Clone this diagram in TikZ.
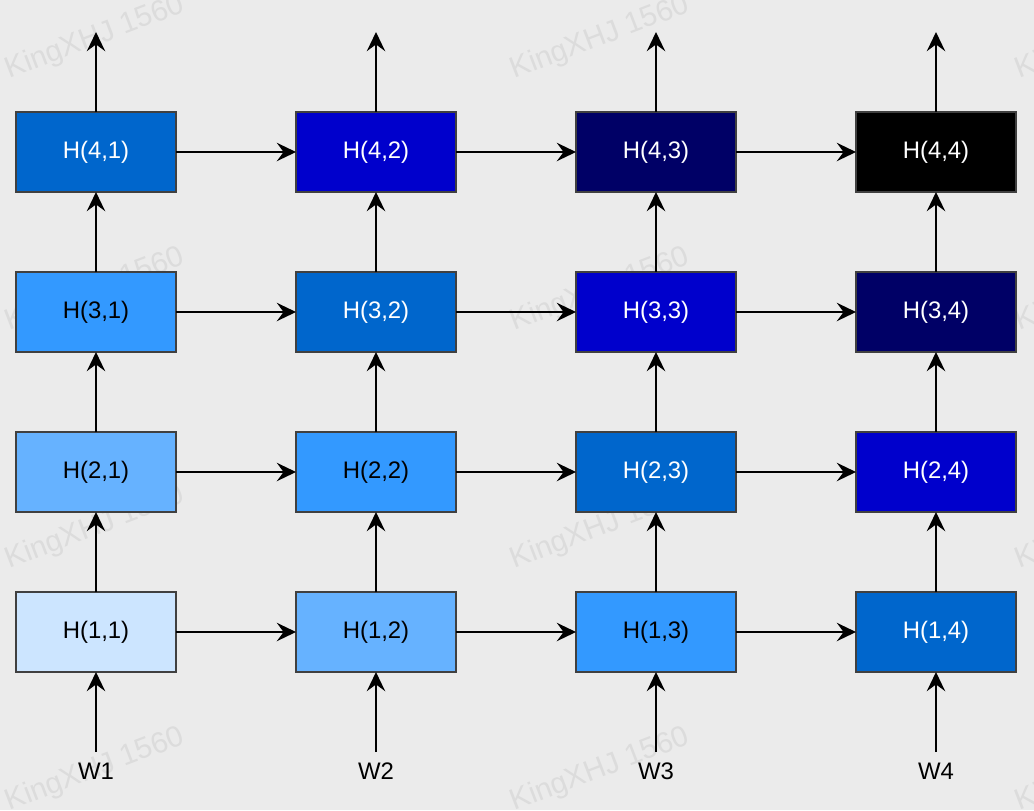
\documentclass[tikz,border=0pt]{standalone}
\usepackage{fontspec}
\setmainfont{Liberation Sans}
\usetikzlibrary{positioning, arrows.meta}
\definecolor{bgcol}{HTML}{EBEBEB}
\definecolor{wmcol}{HTML}{DCDCDC}
\definecolor{lvA}{HTML}{CCE5FF}
\definecolor{lvB}{HTML}{66B2FF}
\definecolor{lvC}{HTML}{3399FF}
\definecolor{lvD}{HTML}{0066CC}
\definecolor{lvE}{HTML}{0000CC}
\definecolor{lvF}{HTML}{000066}
\definecolor{lvG}{HTML}{000000}
\tikzset{
  >={Stealth[length=4.8mm, width=4.6mm, inset=1.7mm]},
  cell/.style={draw=black!75, line width=1pt, minimum width=4cm,
    minimum height=2cm, outer sep=0pt, inner sep=0pt,
    font=\fontsize{17}{20}\selectfont},
  lightcell/.style={cell, text=black},
  darkcell/.style={cell, text=white},
  wlabel/.style={inner sep=0.27cm, font=\fontsize{17}{20}\selectfont},
  flow/.style={->, line width=1.1pt},
  watermark/.style={text=wmcol, rotate=21, font=\fontsize{21}{24}\selectfont},
}

\begin{document}
\begin{tikzpicture}
		\fill[bgcol] (0,0) rectangle (25.85,-20.25);
		\useasboundingbox (0,0) rectangle (25.85,-20.25);

		% watermark
		\begin{scope}
		\clip (0,0) rectangle (25.85,-20.25);
		\foreach \wx in {2.375, 15, 27.625}
		  \foreach \wy in {-0.95, -7.25, -13.2, -19.25}
		    \node[watermark] (wm-\wx-\wy) at (\wx,\wy) {KingXHJ 1560};
		\end{scope}

		% cells
		\node[lightcell, fill=lvA] (h11) at (2.4,-15.8) {H(1,1)};
		\node[lightcell, fill=lvB, right=3cm of h11] (h12) {H(1,2)};
		\node[lightcell, fill=lvC, right=3cm of h12] (h13) {H(1,3)};
		\node[darkcell, fill=lvD, right=3cm of h13] (h14) {H(1,4)};

		\node[lightcell, fill=lvB, above=2cm of h11] (h21) {H(2,1)};
		\node[lightcell, fill=lvC, right=3cm of h21] (h22) {H(2,2)};
		\node[darkcell, fill=lvD, right=3cm of h22] (h23) {H(2,3)};
		\node[darkcell, fill=lvE, right=3cm of h23] (h24) {H(2,4)};

		\node[lightcell, fill=lvC, above=2cm of h21] (h31) {H(3,1)};
		\node[darkcell, fill=lvD, right=3cm of h31] (h32) {H(3,2)};
		\node[darkcell, fill=lvE, right=3cm of h32] (h33) {H(3,3)};
		\node[darkcell, fill=lvF, right=3cm of h33] (h34) {H(3,4)};

		\node[darkcell, fill=lvD, above=2cm of h31] (h41) {H(4,1)};
		\node[darkcell, fill=lvE, right=3cm of h41] (h42) {H(4,2)};
		\node[darkcell, fill=lvF, right=3cm of h42] (h43) {H(4,3)};
		\node[darkcell, fill=lvG, right=3cm of h43] (h44) {H(4,4)};

		% inputs and outputs
		\node[wlabel, below=2cm of h11, anchor=north] (w1) {W1};
		\node[wlabel, below=2cm of h12, anchor=north] (w2) {W2};
		\node[wlabel, below=2cm of h13, anchor=north] (w3) {W3};
		\node[wlabel, below=2cm of h14, anchor=north] (w4) {W4};
		\coordinate[above=2cm of h41] (o1);
		\coordinate[above=2cm of h42] (o2);
		\coordinate[above=2cm of h43] (o3);
		\coordinate[above=2cm of h44] (o4);

		% transitions
		\draw[flow] (h11) edge (h12) (h12) edge (h13) (h13) edge (h14)
		(h21) edge (h22) (h22) edge (h23) (h23) edge (h24)
		(h31) edge (h32) (h32) edge (h33) (h33) edge (h34)
		(h41) edge (h42) (h42) edge (h43) (h43) edge (h44)
		(w1) edge (h11) (h11) edge (h21) (h21) edge (h31) (h31) edge (h41) (h41) edge (o1)
		(w2) edge (h12) (h12) edge (h22) (h22) edge (h32) (h32) edge (h42) (h42) edge (o2)
		(w3) edge (h13) (h13) edge (h23) (h23) edge (h33) (h33) edge (h43) (h43) edge (o3)
		(w4) edge (h14) (h14) edge (h24) (h24) edge (h34) (h34) edge (h44) (h44) edge (o4);
	\end{tikzpicture}
\end{document}
